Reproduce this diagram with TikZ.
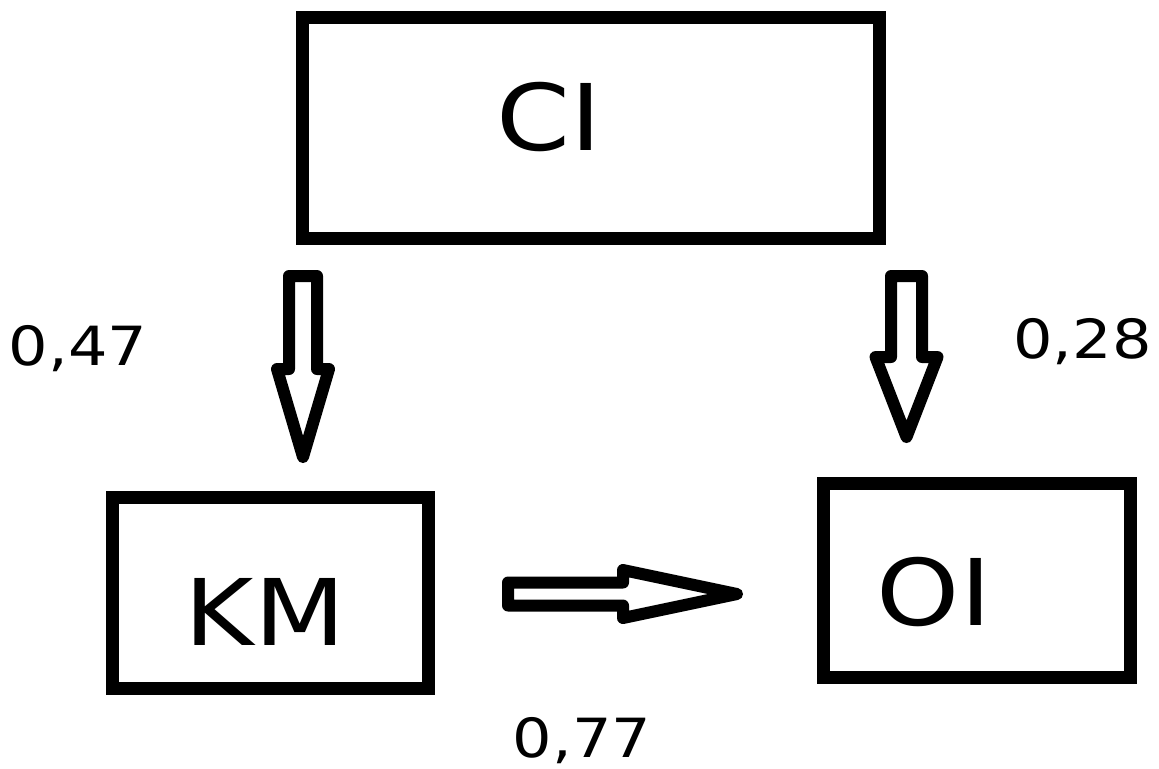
\documentclass[tikz,border=0pt]{standalone}
\usepackage{fontspec}
\setmainfont{DejaVu Sans}
\usetikzlibrary{calc}
\newcommand{\broad}[1]{\scalebox{1.15}[1]{#1}}
\tikzset{
  box/.style={draw, line width=6.5pt, inner sep=0pt, outer sep=0pt},
  boxtext/.style={font=\fontsize{46}{50}\selectfont, inner sep=0pt, anchor=base},
  coef/.style={font=\fontsize{27}{30}\selectfont, inner sep=0pt, anchor=base},
  % shaft half width / head half width / head length
  blockarrow/.style args={#1/#2/#3}{draw, line width=6pt, line join=round, fill=white,
    to path={
      ($(\tikztotarget)!#3!(\tikztostart)$) coordinate (headbase)
      ($(\tikztostart)!#1!90:(\tikztotarget)$)
      -- ($(headbase)!#1!90:(\tikztotarget)$)
      -- ($(headbase)!#2!90:(\tikztotarget)$)
      -- (\tikztotarget)
      -- ($(headbase)!#2!-90:(\tikztotarget)$)
      -- ($(headbase)!#1!-90:(\tikztotarget)$)
      -- ($(\tikztostart)!#1!-90:(\tikztotarget)$)
      -- cycle}}
}
\begin{document}
\begin{tikzpicture}[x=0.5pt,y=-0.5pt]
    \useasboundingbox (0,0) rectangle (1159,768);

    \node[box, minimum width=288.5pt, minimum height=110.5pt] (CI) at (590.5,128) {};
    \node[box, minimum width=158pt, minimum height=95.75pt] (KM) at (270.5,593) {};
    \node[box, minimum width=153.5pt, minimum height=97pt] (OI) at (976.5,580.5) {};

    \node[boxtext] (CI-text) at (549,150) {\broad{CI}};
    \node[boxtext] (KM-text) at (265,645) {\broad{KM}};
    \node[boxtext] (OI-text) at (934,625) {\broad{OI}};

    \coordinate (ci-km-s) at (303,276);
    \coordinate (ci-km-e) at (303,457);
    \coordinate (ci-oi-s) at (906.5,276);
    \coordinate (ci-oi-e) at (906.5,437);
    \coordinate (km-oi-s) at (508,594);
    \coordinate (km-oi-e) at (737,594);

    \draw[blockarrow=7pt/13pt/44pt] (ci-km-s) to (ci-km-e);
    \draw[blockarrow=7.75pt/15.5pt/40pt] (ci-oi-s) to (ci-oi-e);
    \draw[blockarrow=5.75pt/12pt/57pt] (km-oi-s) to (km-oi-e);

    \node[coef] (c-km) at (78,365) {\broad{0,47}};
    \node[coef] (c-oi) at (1082.5,358) {\broad{0,28}};
    \node[coef] (c-kmoi) at (582,757) {\broad{0,77}};
\end{tikzpicture}
\end{document}
